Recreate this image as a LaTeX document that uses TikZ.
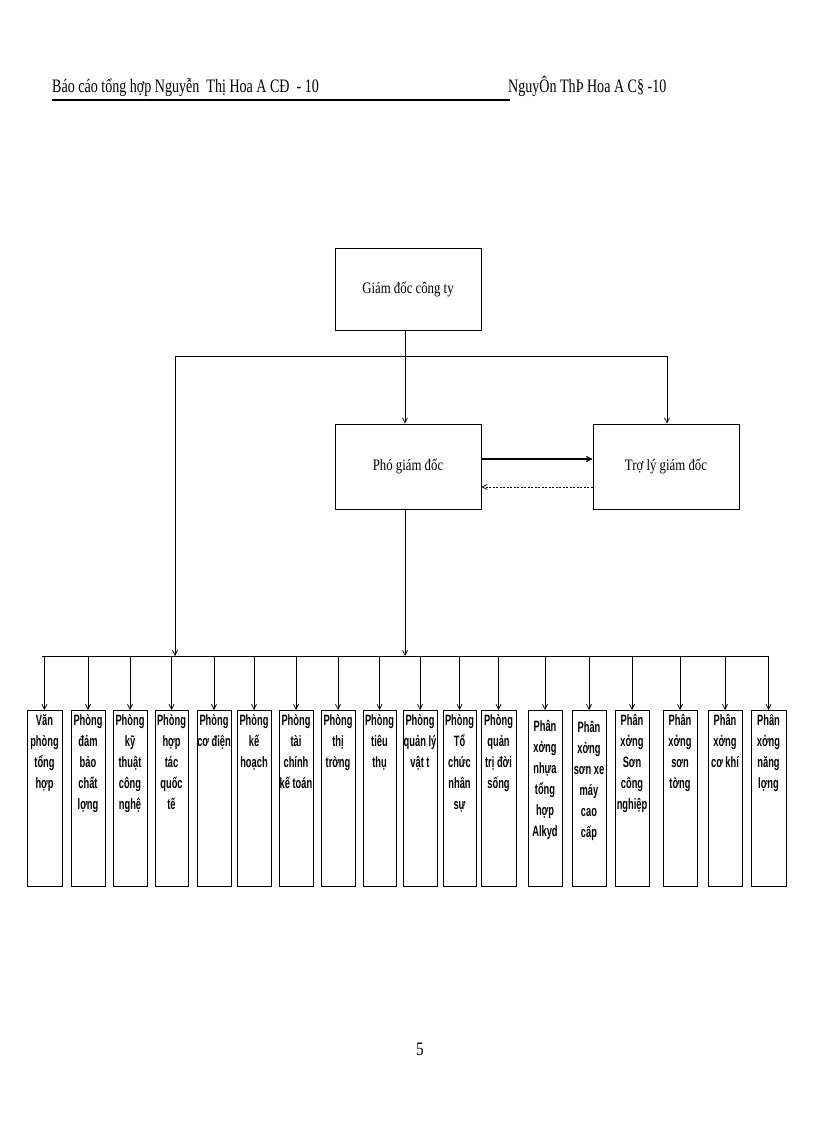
\documentclass[tikz,border=0pt]{standalone}
\usepackage{fontspec}
\setmainfont{Liberation Serif}
\newfontfamily\boxfont[FakeStretch=0.62]{Liberation Sans Bold}
\newfontfamily\serifn[FakeStretch=0.8]{Liberation Serif}
\newfontfamily\serifh[FakeStretch=0.74]{Liberation Serif}
\usetikzlibrary{arrows.meta}
\begin{document}
\begin{tikzpicture}[x=1pt,y=-1pt,
  bx/.style={draw,line width=0.9pt,minimum width=#1,minimum height=176,inner sep=0,anchor=north},
  big/.style={draw,line width=0.9pt,minimum width=146,minimum height=82,inner sep=0,font=\serifn\fontsize{16}{18}\selectfont},
  lbl/.style={anchor=north,align=center,inner sep=0,font=\boxfont\fontsize{15}{21}\selectfont},
  ar/.style={-{Straight Barb[length=5pt,width=5pt]},line width=0.7pt},
  ln/.style={line width=0.9pt}]
\useasboundingbox (0,0) rectangle (816,1123);
\node[anchor=base west,inner sep=0,font=\serifh\fontsize{19}{21}\selectfont] (h1) at (52,93) {Báo cáo tổng hợp Nguyễn \ Thị Hoa A CĐ \ - 10};
\node[anchor=base west,inner sep=0,font=\serifh\fontsize{19}{21}\selectfont] (h2) at (508,93) {NguyÔn ThÞ Hoa A C§ -10};
\coordinate (u1) at (52,100); \coordinate (u2) at (510,100);
\draw[line width=1.6pt] (u1) -- (u2);
\node[big] (gd) at (408,289) {Giám đốc công ty};
\node[big,minimum height=85] (pgd) at (408,466.5) {Phó giám đốc};
\node[big,minimum height=85] (tl) at (666,466.5) {Trợ lý giám đốc};
\coordinate (bl) at (175,356); \coordinate (br) at (667,356);
\coordinate (bm) at (405,356);
\draw[ln] (gd.south -| bm) -- (bm);
\draw[ln] (bl) -- (br);
\draw[ar] (bm) -- (bm |- pgd.north);
\draw[ar] (br) -- (br |- tl.north);
\draw[ar,line width=1.1pt] (pgd.east |- 0,459) -- (tl.west |- 0,459);
\draw[ar,dashed,dash pattern=on 2pt off 1.5pt] (tl.west |- 0,487) -- (pgd.east |- 0,487);
\coordinate (L1) at (42,656); \coordinate (L2) at (768,656);
\draw[ln] (L1) -- (L2);
\coordinate (lb) at (175,656); \coordinate (pb) at (405,656);
\draw[ar] (bl) -- (lb);
\draw[ar] (pgd.south -| pb) -- (pb);
\foreach \n/\a/\b/\y/\t in {
 1/27/62/0/{Văn\\phòng\\tổng\\hợp},
 2/71/105/0/{Phòng\\đảm\\bảo\\chất\\lợng},
 3/113/147/0/{Phòng\\kỹ\\thuật\\công\\nghệ},
 4/155/188/0/{Phòng\\hợp\\tác\\quốc\\tế},
 5/197/231/0/{Phòng\\cơ điện},
 6/237/271/0/{Phòng\\kế\\hoạch},
 7/279/313/0/{Phòng\\tài\\chính\\kế toán},
 8/321/355/0/{Phòng\\thị\\trờng},
 9/363/396/0/{Phòng\\tiêu\\thụ},
 10/403/437/0/{Phòng\\quản lý\\vật t},
 11/443/476/0/{Phòng\\Tổ\\chức\\nhân\\sự},
 12/481/516/0/{Phòng\\quản\\trị đời\\sống},
 13/528/562/6/{Phân\\xởng\\nhựa\\tổng\\hợp\\Alkyd},
 14/572/606/7/{Phân\\xởng\\sơn xe\\máy\\cao\\cấp},
 15/615/649/0/{Phân\\xởng\\Sơn\\công\\nghiệp},
 16/663/697/0/{Phân\\xởng\\sơn\\tờng},
 17/708/742/0/{Phân\\xởng\\cơ khí},
 18/751/786/0/{Phân\\xởng\\năng\\lợng}}{
  \pgfmathsetmacro\w{\b-\a}
  \pgfmathsetmacro\c{(\a+\b)/2}
  \node[bx=\w] (b\n) at (\c,710) {};
  \node[lbl] (t\n) at ([yshift=-4-\y]b\n.north) {\t};
  \draw[ar] (b\n.north |- L1) -- (b\n.north);
}
\node[anchor=base,inner sep=0,font=\serifn\fontsize{19}{21}\selectfont] (pg) at (420,1055) {5};
\end{tikzpicture}
\end{document}
